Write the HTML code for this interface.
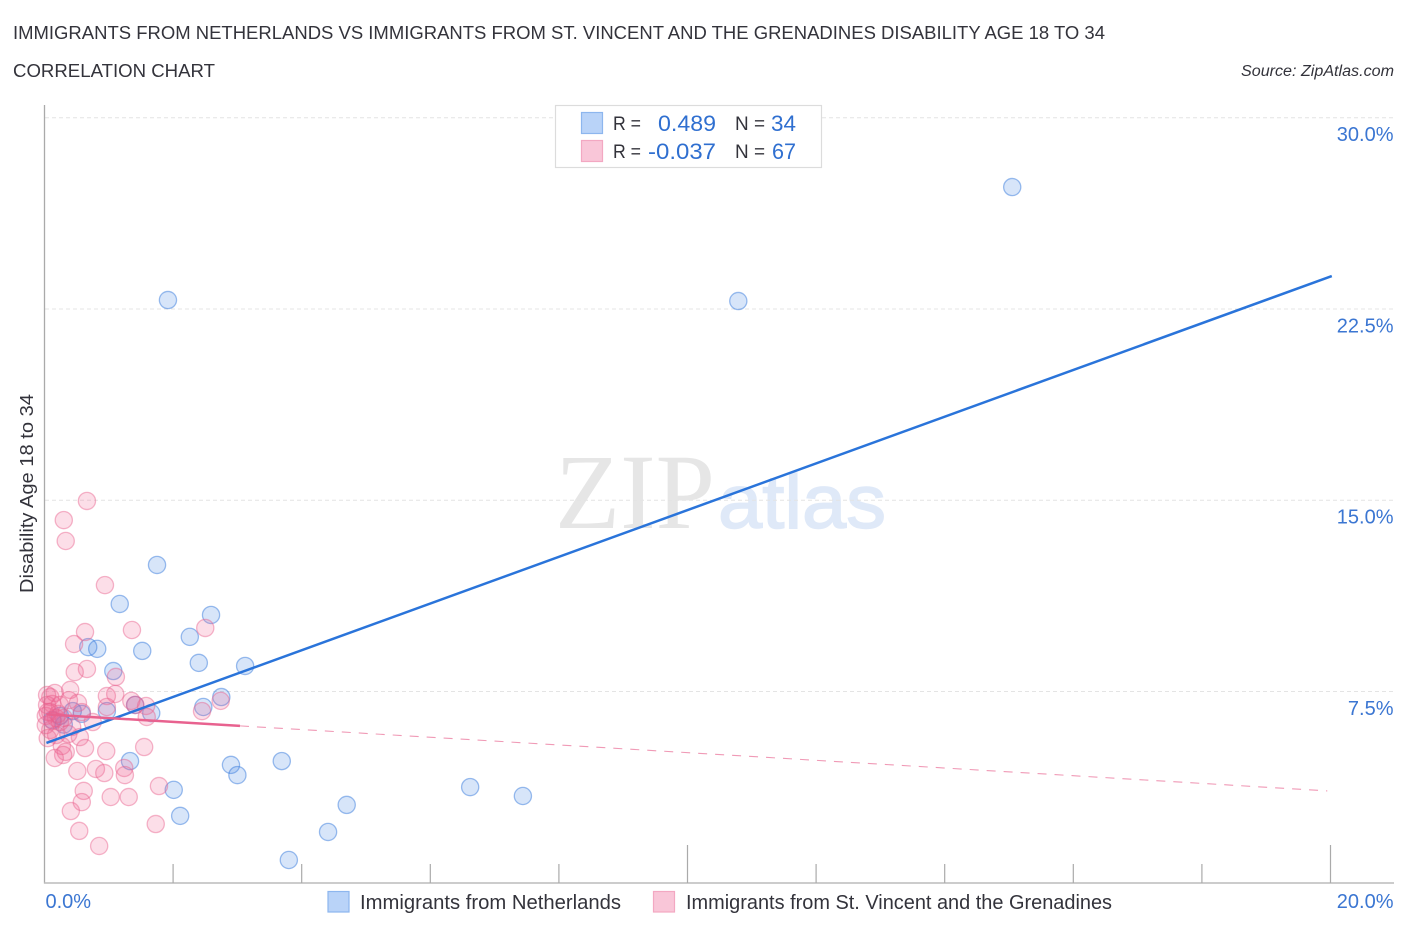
<!DOCTYPE html>
<html>
<head>
<meta charset="utf-8">
<title>Immigrants from Netherlands vs Immigrants from St. Vincent and the Grenadines</title>
<style>
html,body{margin:0;padding:0;background:#fff;}
body{width:1406px;height:930px;overflow:hidden;}
svg{display:block;font-family:"Liberation Sans",sans-serif;}
</style>
</head>
<body>
<svg id="chart" width="1406" height="930" viewBox="0 0 1406 930" xmlns="http://www.w3.org/2000/svg">
  <text x="13" y="39" font-size="18.5" fill="#33333b" textLength="1092" lengthAdjust="spacingAndGlyphs">IMMIGRANTS FROM NETHERLANDS VS IMMIGRANTS FROM ST. VINCENT AND THE GRENADINES DISABILITY AGE 18 TO 34</text>
  <text x="13" y="77" font-size="18.5" fill="#33333b" textLength="202" lengthAdjust="spacingAndGlyphs">CORRELATION CHART</text>
  <text x="1241" y="76" font-size="15.5" font-style="italic" fill="#33333b" textLength="153" lengthAdjust="spacingAndGlyphs">Source: ZipAtlas.com</text>

  <g>
    <text x="555" y="528" style="font-family:'Liberation Serif',serif" font-size="107" fill="#e6e6e6" textLength="160" lengthAdjust="spacingAndGlyphs">ZIP</text>
    <text x="718" y="528" style="font-family:'Liberation Sans',Arial,sans-serif;font-weight:400" font-size="76" fill="#dfe9f8" stroke="#dfe9f8" stroke-width="1.5" textLength="168" lengthAdjust="spacingAndGlyphs">atlas</text>
  </g>

  <g id="grid"></g>
  <g id="axes"></g>
  <g id="xticks"></g>
  <g id="ylabels"></g>
  <g id="xlabels"></g>

  <text transform="translate(33,593) rotate(-90)" x="0" y="0" font-size="18.5" fill="#33333b" textLength="199" lengthAdjust="spacingAndGlyphs">Disability Age 18 to 34</text>

  <g id="points-blue"></g>
  <g id="points-pink"></g>
  <g id="trends"></g>

  <g>
    <rect x="555.5" y="105.5" width="266" height="62" fill="#fff" stroke="#dcdcdc" stroke-width="1.2"/>
    <rect x="581.5" y="112.5" width="21" height="21" fill="#b9d3f8" stroke="#8db6ee" stroke-width="1.2"/>
    <rect x="581.5" y="140.5" width="21" height="21" fill="#f9c6d8" stroke="#f3a8c2" stroke-width="1.2"/>
    <text x="613" y="130" font-size="19.5" fill="#33333b" textLength="28" lengthAdjust="spacingAndGlyphs">R =</text>
    <text x="658" y="131" font-size="22" fill="#2f6fd0" textLength="58" lengthAdjust="spacingAndGlyphs">0.489</text>
    <text x="735" y="130" font-size="19.5" fill="#33333b" textLength="30" lengthAdjust="spacingAndGlyphs">N =</text>
    <text x="771" y="131" font-size="22" fill="#2f6fd0" textLength="25" lengthAdjust="spacingAndGlyphs">34</text>
    <text x="613" y="158" font-size="19.5" fill="#33333b" textLength="28" lengthAdjust="spacingAndGlyphs">R =</text>
    <text x="648" y="159" font-size="22" fill="#2f6fd0" textLength="68" lengthAdjust="spacingAndGlyphs">-0.037</text>
    <text x="735" y="158" font-size="19.5" fill="#33333b" textLength="30" lengthAdjust="spacingAndGlyphs">N =</text>
    <text x="772" y="159" font-size="22" fill="#2f6fd0" textLength="24" lengthAdjust="spacingAndGlyphs">67</text>
  </g>

  <g>
    <rect x="328" y="891.5" width="21" height="20.5" fill="#b9d3f8" stroke="#8db6ee" stroke-width="1.2"/>
    <text x="360" y="909" font-size="20" fill="#33333b" textLength="261" lengthAdjust="spacingAndGlyphs">Immigrants from Netherlands</text>
    <rect x="653.5" y="891.5" width="21" height="20.5" fill="#f9c6d8" stroke="#f3a8c2" stroke-width="1.2"/>
    <text x="686" y="909" font-size="20" fill="#33333b" textLength="426" lengthAdjust="spacingAndGlyphs">Immigrants from St. Vincent and the Grenadines</text>
  </g>
</svg>
<script>
var yTickValues = [7.5, 15, 22.5, 30];
var yTickLabels = ["7.5%", "15.0%", "22.5%", "30.0%"];
var xTickValues = [2, 4, 6, 8, 10, 12, 14, 16, 18, 20];
var xMajorTicks = [10, 20];
var xEndValues = [0, 20];
var xEndLabels = ["0.0%", "20.0%"];

var blueX = [15.05,1.92,10.79,1.75,1.17,2.59,2.26,1.52,0.68,0.82,2.40,3.12,1.07,2.75,2.47,1.41,1.66,0.97,0.58,0.44,0.24,0.12,1.33,2.90,3.00,3.69,2.01,2.11,4.70,6.62,7.44,4.41,3.80,0.30];
var blueY = [27.28,22.85,22.81,12.46,10.93,10.50,9.64,9.09,9.24,9.17,8.62,8.50,8.30,7.28,6.89,6.97,6.65,6.73,6.62,6.73,6.54,6.38,4.77,4.62,4.22,4.77,3.64,2.62,3.05,3.75,3.40,1.99,0.89,6.20];

var pinkX = [0.66,0.30,0.33,0.94,1.36,2.50,0.63,0.46,0.66,0.47,1.11,0.16,0.09,0.04,0.40,0.38,0.97,1.10,1.35,1.58,1.59,0.97,1.41,2.45,2.74,0.52,0.58,0.75,0.24,0.12,0.04,0.09,0.18,0.02,0.24,0.30,0.09,0.18,0.37,0.55,0.05,0.02,0.63,0.96,1.55,0.27,0.33,0.29,0.16,0.51,0.80,0.93,1.24,1.25,1.78,0.61,0.58,1.03,1.31,0.41,1.73,0.54,0.85,0.13,0.05,0.21,0.43];
var pinkY = [14.97,14.22,13.40,11.67,9.91,9.99,9.83,9.36,8.38,8.26,8.07,7.44,7.28,7.36,7.56,7.16,7.32,7.40,7.13,6.93,6.50,6.89,6.97,6.73,7.13,7.05,6.69,6.30,6.97,7.01,6.97,6.69,6.46,6.54,6.30,6.46,5.99,5.79,5.83,5.71,5.67,6.18,5.28,5.16,5.32,5.36,5.13,5.01,4.89,4.38,4.46,4.30,4.50,4.22,3.79,3.60,3.16,3.36,3.36,2.81,2.30,2.03,1.44,6.34,6.69,6.62,6.11];

var blueTrendX = [0.03, 20.02];
var blueTrendY = [5.48, 23.79];
var pinkSolidX = [0.03, 3.04];
var pinkSolidY = [6.6, 6.15];
var pinkDashX = [3.04, 19.95];
var pinkDashY = [6.15, 3.6];

var NS = "http://www.w3.org/2000/svg";
function xScale(v) { return 44.5 + v * 64.3; }
function yScale(v) { return 882.7 - v * 25.5; }
function make(tag, parentId, attrs, text) {
  var el = document.createElementNS(NS, tag);
  for (var k in attrs) { el.setAttribute(k, attrs[k]); }
  if (text !== undefined) { el.textContent = text; }
  document.getElementById(parentId).appendChild(el);
  return el;
}

yTickValues.forEach(function (v, i) {
  var line = make("line", "grid", {x1: 45, x2: 1394, y1: yScale(v), y2: yScale(v), stroke: "#e4e4e4", "stroke-width": 1, "stroke-dasharray": "4 3"});
  
  
  var label = make("text", "ylabels", {x: 1393.5, y: yScale(v) + 23.5, "text-anchor": "end", "font-size": 20, fill: "#3b76d2"}, yTickLabels[i]);
  
  
});

var yAxis = make("line", "axes", {x1: 44.5, x2: 44.5, y1: 105, y2: 883.5, stroke: "#aaaaaa", "stroke-width": 1.3});


var xAxis = make("line", "axes", {x1: 44, x2: 1394, y1: 883, y2: 883, stroke: "#bbbbbb", "stroke-width": 1.6});



xTickValues.forEach(function (v) {
  var major = xMajorTicks.indexOf(v) >= 0;
  var tick = make("line", "xticks", {x1: xScale(v), x2: xScale(v), y1: major ? 845 : 864, y2: 883, stroke: "#aaaaaa", "stroke-width": 1.2});
  
  
});

xEndValues.forEach(function (v, i) {
  var label = make("text", "xlabels", {x: i === 0 ? xScale(v) + 1 : xScale(v) + 63, y: 908, "text-anchor": i === 0 ? "start" : "end", "font-size": 20, fill: "#3b76d2"}, xEndLabels[i]);
  
  
});

blueX.forEach(function (v, i) {
  var c = make("circle", "points-blue", {cx: xScale(v), cy: yScale(blueY[i]), r: 8.6, fill: "rgba(66,133,228,0.21)", stroke: "rgba(50,120,220,0.48)", "stroke-width": 1.3});
  
  
});

pinkX.forEach(function (v, i) {
  var c = make("circle", "points-pink", {cx: xScale(v), cy: yScale(pinkY[i]), r: 8.6, fill: "rgba(240,100,145,0.21)", stroke: "rgba(232,95,140,0.45)", "stroke-width": 1.3});
  
  
});

var blueLine = make("line", "trends", {x1: xScale(blueTrendX[0]), y1: yScale(blueTrendY[0]), x2: xScale(blueTrendX[1]), y2: yScale(blueTrendY[1]), stroke: "#2a74da", "stroke-width": 2.5});


var pinkLine = make("line", "trends", {x1: xScale(pinkSolidX[0]), y1: yScale(pinkSolidY[0]), x2: xScale(pinkSolidX[1]), y2: yScale(pinkSolidY[1]), stroke: "#e8628f", "stroke-width": 2.5});


var pinkDash = make("line", "trends", {x1: xScale(pinkDashX[0]), y1: yScale(pinkDashY[0]), x2: xScale(pinkDashX[1]), y2: yScale(pinkDashY[1]), stroke: "#f09ab6", "stroke-width": 1.1, "stroke-dasharray": "9 8"});


</script>
</body>
</html>
